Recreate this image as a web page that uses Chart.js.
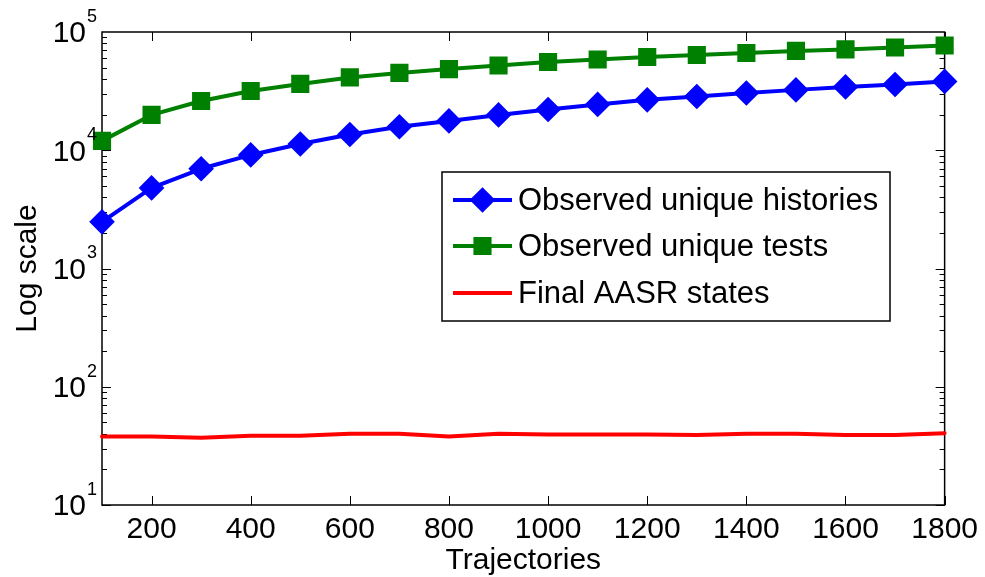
<!DOCTYPE html>
<html lang="en">
<head>
    <meta charset="UTF-8">
    <title>Log scale vs trajectories</title>
    <script src="https://cdn.jsdelivr.net/npm/chart.js"></script>
    <style>
        body {
            margin: 0;
            background: #fff;
        }
    </style>
</head>
<body>
    <canvas id="chart" width="985" height="577"></canvas>
    <script>
        const trajectories = [100, 200, 300, 400, 500, 600, 700, 800, 900, 1000, 1100, 1200, 1300, 1400, 1500, 1600, 1700, 1800];
        const uniqueHistories = [2480, 4800, 6970, 9130, 11300, 13600, 15800, 17700, 19900, 22100, 24400, 26700, 28500, 30500, 32400, 34300, 36000, 38200];
        const uniqueTests = [12000, 19900, 26100, 31700, 36400, 41300, 45100, 48600, 52100, 55800, 58600, 61500, 63900, 66500, 69200, 71200, 74000, 76900];
        const aasrStates = [38, 38, 37, 38.5, 38.5, 40, 40, 38, 40, 39.5, 39.5, 39.5, 39, 40, 40, 39, 39, 40.5];
        const xTicks = [200, 400, 600, 800, 1000, 1200, 1400, 1600, 1800];
        const yTicks = [10, 100, 1000, 10000, 100000];

        const FONT = '"Liberation Sans", Arial, sans-serif';

        function points(values) {
            return trajectories.map((x, i) => ({ x: x, y: values[i] }));
        }

        // frame, inside ticks, y labels with exponents, axis titles and legend
        const matlabLook = {
            id: 'matlabLook',
            beforeDatasetsDraw(chart) {
                const ctx = chart.ctx;
                const a = chart.chartArea;
                const xs = chart.scales.x;
                const ys = chart.scales.y;
                ctx.save();
                ctx.strokeStyle = '#000';
                ctx.lineWidth = 1.5;
                ctx.strokeRect(a.left, a.top, a.right - a.left, a.bottom - a.top);
                ctx.lineWidth = 1;
                ctx.beginPath();
                xTicks.forEach(v => {
                    const px = Math.round(xs.getPixelForValue(v)) + 0.5;
                    ctx.moveTo(px, a.bottom); ctx.lineTo(px, a.bottom - 9);
                    ctx.moveTo(px, a.top); ctx.lineTo(px, a.top + 9);
                });
                for (let d = 10; d < 100000; d *= 10) {
                    for (let m = 1; m < 10; m++) {
                        const py = Math.round(ys.getPixelForValue(d * m)) + 0.5;
                        const len = m === 1 ? 9 : 5;
                        ctx.moveTo(a.left, py); ctx.lineTo(a.left + len, py);
                        ctx.moveTo(a.right, py); ctx.lineTo(a.right - len, py);
                    }
                }
                ctx.stroke();
                ctx.restore();
            },
            afterDraw(chart) {
                const ctx = chart.ctx;
                const a = chart.chartArea;
                const ys = chart.scales.y;
                ctx.save();
                ctx.fillStyle = '#000';

                // y tick labels 10^n
                yTicks.forEach(v => {
                    const py = ys.getPixelForValue(v);
                    ctx.font = '30px ' + FONT;
                    ctx.textAlign = 'right';
                    ctx.textBaseline = 'middle';
                    ctx.fillText('10', 86, py + 2);
                    ctx.font = '18px ' + FONT;
                    ctx.textAlign = 'left';
                    ctx.fillText(String(Math.round(Math.log10(v))), 87, py - 15);
                });

                // axis titles
                ctx.font = '30px ' + FONT;
                ctx.textAlign = 'center';
                ctx.textBaseline = 'middle';
                ctx.fillText('Trajectories', (a.left + a.right) / 2, 561);
                ctx.save();
                ctx.translate(28, (a.top + a.bottom) / 2);
                ctx.rotate(-Math.PI / 2);
                ctx.fillText('Log scale', 0, 0);
                ctx.restore();

                // legend
                ctx.fillStyle = '#fff';
                ctx.fillRect(442, 172, 448, 149);
                ctx.strokeStyle = '#000';
                ctx.lineWidth = 1.5;
                ctx.strokeRect(442, 172, 448, 149);
                const rows = [200, 246, 293];
                chart.data.datasets.forEach((ds, i) => {
                    const y = rows[i];
                    ctx.strokeStyle = ds.borderColor;
                    ctx.lineWidth = ds.borderWidth;
                    ctx.beginPath();
                    ctx.moveTo(453, y);
                    ctx.lineTo(512, y);
                    ctx.stroke();
                    if (ds.pointRadius > 0) {
                        ctx.fillStyle = ds.pointBackgroundColor;
                        ctx.strokeStyle = ds.pointBorderColor;
                        Chart.helpers.drawPoint(ctx, {
                            pointStyle: ds.pointStyle,
                            radius: ds.pointRadius,
                            rotation: 0,
                            borderWidth: 1
                        }, 482.5, y);
                    }
                    ctx.fillStyle = '#000';
                    ctx.font = '31px ' + FONT;
                    ctx.textAlign = 'left';
                    ctx.textBaseline = 'middle';
                    ctx.fillText(ds.label, 518, y + 1);
                });
                ctx.restore();
            }
        };

        new Chart(document.getElementById('chart'), {
            type: 'line',
            data: {
                datasets: [{
                    label: 'Observed unique histories',
                    data: points(uniqueHistories),
                    borderColor: '#0000ff',
                    borderWidth: 4,
                    pointStyle: 'rectRot',
                    pointRadius: 10,
                    pointBackgroundColor: '#0000ff',
                    pointBorderColor: '#0000ff',
                    tension: 0,
                    clip: false
                }, {
                    label: 'Observed unique tests',
                    data: points(uniqueTests),
                    borderColor: '#008000',
                    borderWidth: 4,
                    pointStyle: 'rect',
                    pointRadius: 10,
                    pointBackgroundColor: '#008000',
                    pointBorderColor: '#008000',
                    tension: 0,
                    clip: false
                }, {
                    label: 'Final AASR states',
                    data: points(aasrStates),
                    borderColor: '#ff0000',
                    borderWidth: 4,
                    pointRadius: 0,
                    tension: 0,
                    clip: false
                }]
            },
            options: {
                responsive: false,
                animation: false,
                devicePixelRatio: 1,
                layout: {
                    padding: { left: 0, right: 38, top: 32, bottom: 0 }
                },
                plugins: {
                    legend: { display: false },
                    tooltip: { enabled: false }
                },
                elements: {
                    line: { borderJoinStyle: 'round', borderCapStyle: 'round' }
                },
                scales: {
                    x: {
                        type: 'linear',
                        min: 100,
                        max: 1800,
                        afterBuildTicks: s => { s.ticks = xTicks.map(v => ({ value: v })); },
                        afterFit: s => { s.height = 72; },
                        grid: { display: false, drawTicks: false },
                        border: { display: false },
                        ticks: {
                            color: '#000',
                            padding: 7,
                            maxRotation: 0,
                            autoSkip: false,
                            font: { family: FONT, size: 30 },
                            callback: v => String(v)
                        }
                    },
                    y: {
                        type: 'logarithmic',
                        min: 10,
                        max: 100000,
                        afterBuildTicks: s => { s.ticks = yTicks.map(v => ({ value: v })); },
                        afterFit: s => { s.width = 102; },
                        grid: { display: false, drawTicks: false },
                        border: { display: false },
                        ticks: { display: false }
                    }
                }
            },
            plugins: [matlabLook]
        });
    </script>
</body>
</html>
